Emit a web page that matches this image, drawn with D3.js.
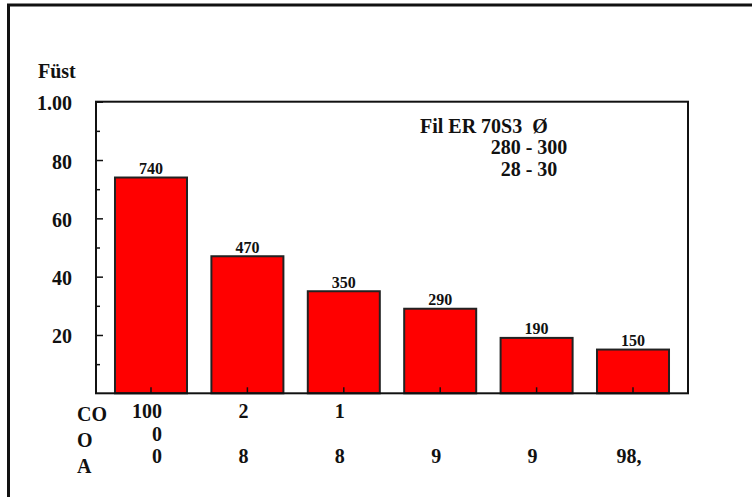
<!DOCTYPE html>
<html>
<head>
<meta charset="utf-8">
<script src="https://cdn.jsdelivr.net/npm/d3@7"></script>
<style>
  html, body { margin: 0; padding: 0; background: #fff; }
  svg { display: block; }
  text { font-family: "Liberation Serif", "Times New Roman", serif; font-weight: bold; fill: #111; white-space: pre; }
</style>
</head>
<body>
<svg id="chart" width="752" height="497"></svg>
<script>
// Bar values (label shown above each bar)
const values = [740, 470, 350, 290, 190, 150];
// Category labels, one entry per bar, split into three rows
const categoryLines = [
  ["100", "0", "0"],
  ["2", "", "8"],
  ["1", "", "8"],
  ["", "", "9"],
  ["", "", "9"],
  ["", "", "98,"]
];
// Row headers left of the category labels
const rowHeaders = ["CO", "O", "A"];
// Y axis ticks and their printed labels
const majorTicks = [200, 400, 600, 800, 1000];
const majorTickLabels = ["20", "40", "60", "80", "1.00"];
const minorTicks = [100, 300, 500, 700, 900];
const yTitle = "Füst";
const noteLines = ["Fil ER 70S3  Ø", "280 - 300", "28 - 30"];

const svg = d3.select("#chart");
const plot = { left: 96, top: 101.7, right: 688, bottom: 393.3 };
const labelSize = 20;

const x = d3.scaleBand()
  .domain(d3.range(values.length))
  .range([plot.left, plot.right])
  .paddingInner(0.253)
  .paddingOuter(0.197);

const y = d3.scaleLinear()
  .domain([0, 1000])
  .range([plot.bottom, plot.top]);

// outer frame (runs past the right and bottom edges)
svg.append("rect")
  .attr("x", 8.5).attr("y", 5)
  .attr("width", 900).attr("height", 700)
  .attr("fill", "none").attr("stroke", "#111").attr("stroke-width", 3);

// bars
svg.append("g").selectAll("rect")
  .data(values)
  .join("rect")
  .attr("x", (d, i) => x(i))
  .attr("y", d => y(d))
  .attr("width", x.bandwidth())
  .attr("height", d => y(0) - y(d))
  .attr("fill", "#ff0000")
  .attr("stroke", "#222")
  .attr("stroke-width", 2);

// value labels above bars
svg.append("g").selectAll("text")
  .data(values)
  .join("text")
  .attr("x", (d, i) => x(i) + x.bandwidth() / 2)
  .attr("y", d => y(d) - 3.5)
  .attr("text-anchor", "middle")
  .attr("font-size", 16)
  .text(d => d);

// plot frame
svg.append("rect")
  .attr("x", plot.left).attr("y", plot.top)
  .attr("width", plot.right - plot.left)
  .attr("height", plot.bottom - plot.top)
  .attr("fill", "none").attr("stroke", "#111").attr("stroke-width", 2);

// y axis: inward ticks, labels on the left
const yAxisMajor = d3.axisRight(y).tickValues(majorTicks).tickSize(7).tickFormat("");
const yAxisMinor = d3.axisRight(y).tickValues(minorTicks).tickSize(4).tickFormat("");
[yAxisMajor, yAxisMinor].forEach(ax => {
  const g = svg.append("g").attr("transform", `translate(${plot.left},0)`).call(ax);
  g.select(".domain").remove();
  g.selectAll("line").attr("stroke", "#111").attr("stroke-width", 1.5);
});
svg.append("g").selectAll("text")
  .data(majorTicks)
  .join("text")
  .attr("x", 72)
  .attr("y", d => y(d) + 8.5)
  .attr("text-anchor", "end")
  .attr("font-size", labelSize)
  .text((d, i) => majorTickLabels[i]);

svg.append("text")
  .attr("x", 38).attr("y", 78)
  .attr("font-size", labelSize)
  .text(yTitle);

// x axis: short upward ticks at bar centres
const xAxis = d3.axisTop(x).tickSize(6).tickFormat("");
const gx = svg.append("g").attr("transform", `translate(0,${plot.bottom})`).call(xAxis);
gx.select(".domain").remove();
gx.selectAll("line").attr("stroke", "#111").attr("stroke-width", 1.5);

// category labels: each block centred under its bar, lines right-aligned
const rowBaselines = [418, 441, 463];
categoryLines.forEach((lines, i) => {
  const g = svg.append("g");
  const cx = x(i) + x.bandwidth() / 2 - 4;
  const texts = g.selectAll("text")
    .data(lines)
    .join("text")
    .attr("y", (d, j) => rowBaselines[j])
    .attr("font-size", labelSize)
    .attr("text-anchor", "end")
    .text(d => d);
  let w = 0;
  texts.each(function () { w = Math.max(w, this.getComputedTextLength()); });
  texts.attr("x", cx + w / 2);
});

// row headers
const headerBaselines = [421, 447, 473];
svg.append("g").selectAll("text")
  .data(rowHeaders)
  .join("text")
  .attr("x", 77)
  .attr("y", (d, i) => headerBaselines[i])
  .attr("font-size", labelSize)
  .text(d => d);

// note in the upper right of the plot
const noteX = [420, 529, 529];
const noteAnchor = ["start", "middle", "middle"];
const noteBaselines = [133, 154, 176];
svg.append("g").selectAll("text")
  .data(noteLines)
  .join("text")
  .attr("x", (d, i) => noteX[i])
  .attr("y", (d, i) => noteBaselines[i])
  .attr("text-anchor", (d, i) => noteAnchor[i])
  .attr("font-size", labelSize)
  .text(d => d);
</script>
</body>
</html>
